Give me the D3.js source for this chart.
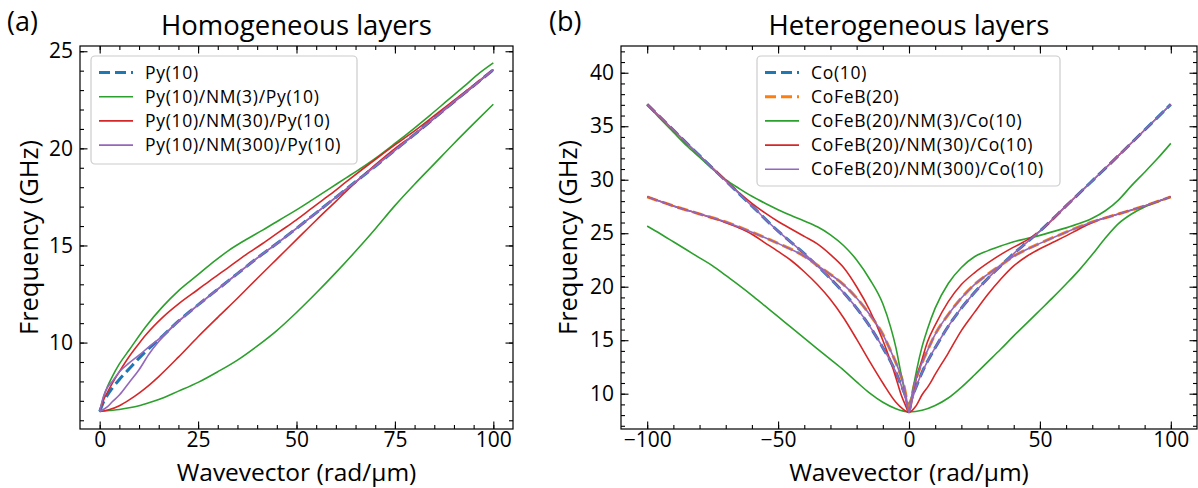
<!DOCTYPE html>
<html><head><meta charset="utf-8">
<script src="https://cdn.jsdelivr.net/npm/d3@7"></script>
<style>
html,body{margin:0;padding:0;background:#fff;}
text{font-family:"Open Sans","Noto Sans",sans-serif;fill:#000;}
</style></head>
<body>
<svg id="chart" width="1198" height="488"></svg>
<script>
// ---------------- DATA ----------------
// Panel (a): Homogeneous layers — [wavevector rad/µm, frequency GHz]
const py10 = [[0,6.45],[1,6.95],[2,7.3],[3,7.6],[5,8.1],[7.5,8.65],[10,9.2],[12.5,9.7],[15,10.15],[20,11.1],[25,11.94],[30,12.75],[35,13.55],[40,14.35],[45,15.1],[50,15.88],[55,16.68],[60,17.48],[65,18.28],[70,19.08],[75,19.9],[80,20.72],[85,21.56],[90,22.4],[95,23.22],[100,24.05]];
const nm3Upper = [[0,6.45],[1,7.2],[2,7.75],[3.2,8.25],[5,8.9],[7.5,9.62],[11.7,10.82],[16,11.85],[20.2,12.7],[24.9,13.48],[28.9,14.15],[32.9,14.76],[37,15.28],[41.4,15.79],[45.6,16.3],[49.9,16.82],[54,17.35],[58.4,17.93],[62.6,18.48],[66.9,19.05],[71,19.63],[75,20.25],[79.5,20.97],[83.9,21.7],[88.2,22.44],[92.4,23.16],[96,23.8],[100,24.4]];
const nm3Lower = [[0,6.45],[2.5,6.5],[5,6.55],[7.5,6.64],[10,6.75],[12.5,6.9],[15,7.07],[20,7.5],[25,7.95],[30,8.5],[35,9.1],[40,9.82],[45,10.62],[50,11.55],[55,12.55],[60,13.6],[65,14.7],[70,15.85],[75,17.05],[80,18.15],[85,19.2],[90,20.25],[95,21.27],[100,22.27]];
const nm30Upper = [[0,6.45],[1,7.05],[2,7.45],[3.2,7.9],[5,8.5],[7.5,9.28],[9.6,9.85],[11.7,10.39],[16,11.3],[20.2,12.02],[24.9,12.72],[28.9,13.32],[32.9,13.9],[37,14.5],[41.4,15.1],[45.6,15.7],[49.9,16.3],[54,16.93],[58.4,17.6],[62.6,18.27],[66.9,18.95],[71,19.58],[75,20.18],[80,20.9],[85,21.68],[90,22.47],[95,23.26],[100,24.05]];
const nm30Lower = [[0,6.45],[2.5,6.55],[5,6.75],[7.5,7.05],[10,7.4],[12.5,7.8],[15,8.25],[20,9.25],[25,10.3],[30,11.3],[35,12.28],[40,13.3],[45,14.3],[50,15.3],[55,16.3],[60,17.27],[65,18.25],[70,19.15],[75,19.99],[80,20.72],[85,21.54],[90,22.38],[95,23.21],[100,24.05]];
const nm300Upper = [[0,6.45],[1,7.25],[2,7.7],[3.2,8.0],[5,8.5],[7.5,8.95],[10,9.35],[12.5,9.78],[15,10.18],[20,11.1],[25,11.94],[30,12.75],[35,13.55],[40,14.35],[45,15.1],[50,15.88],[55,16.68],[60,17.48],[65,18.28],[70,19.08],[75,19.9],[80,20.72],[85,21.56],[90,22.4],[95,23.22],[100,24.05]];
const nm300Lower = [[0,6.45],[2,6.7],[3.2,6.95],[5,7.3],[7.5,7.95],[10,8.6],[12.5,9.4],[15,10.05],[17.5,10.6],[20,11.08],[25,11.94],[30,12.75],[35,13.55],[40,14.35],[45,15.1],[50,15.88],[55,16.68],[60,17.48],[65,18.28],[70,19.08],[75,19.9],[80,20.72],[85,21.56],[90,22.4],[95,23.22],[100,24.05]];

// Panel (b): Heterogeneous layers
const co10 = [[-100,37.04],[-90,34.65],[-80,32.25],[-70,29.9],[-60,27.55],[-50,25.2],[-45,24.15],[-40,23.1],[-35,21.95],[-30,20.75],[-25,19.45],[-20,18.0],[-15,16.3],[-10,14.3],[-7,13.0],[-5,12.0],[-3,10.8],[-1.5,9.9],[0,9.0],[1.5,9.9],[3,10.8],[5,12.0],[7,13.0],[10,14.3],[15,16.3],[20,18.0],[25,19.45],[30,20.75],[35,21.95],[40,23.1],[45,24.15],[50,25.2],[60,27.55],[70,29.9],[80,32.25],[90,34.65],[100,37.04]];
const cofeb20 = [[-100,28.4],[-90,27.55],[-80,26.8],[-70,26.05],[-60,25.1],[-50,24.05],[-40,22.85],[-35,22.0],[-30,21.15],[-25,20.2],[-20,18.95],[-15,17.4],[-10,15.55],[-7,14.0],[-5,12.9],[-3,11.6],[-2,10.8],[-1,9.6],[0,8.2],[1,9.6],[2,10.8],[3,11.6],[5,12.9],[7,14.0],[10,15.55],[15,17.4],[20,18.95],[25,20.2],[30,21.15],[35,22.0],[40,22.85],[50,24.05],[60,25.1],[70,26.05],[80,26.8],[90,27.55],[100,28.4]];
const hetNm3Upper = [[-100,37.04],[-95,35.7],[-90,34.45],[-85,33.2],[-80,32.1],[-75,31.0],[-70,30.0],[-65,29.2],[-60,28.45],[-55,27.8],[-50,27.2],[-45,26.65],[-40,26.15],[-35,25.6],[-30,24.85],[-25,23.85],[-20,22.5],[-15,20.7],[-10,18.4],[-7,16.2],[-5,14.3],[-3,11.8],[-1.5,10.0],[0,8.35],[1.5,10.4],[3,12.3],[5,14.4],[7,16.0],[10,18.0],[15,20.3],[20,21.8],[25,22.8],[30,23.35],[35,23.8],[40,24.2],[45,24.5],[50,24.8],[55,25.15],[60,25.5],[65,25.9],[70,26.4],[75,27.1],[80,28.1],[85,29.45],[90,30.7],[95,32.0],[100,33.4]];
const hetNm3Lower = [[-100,25.67],[-95,24.95],[-90,24.2],[-85,23.45],[-80,22.7],[-75,21.95],[-70,21.05],[-65,20.15],[-60,19.2],[-55,18.2],[-50,17.2],[-45,16.2],[-40,15.2],[-35,14.2],[-30,13.2],[-25,12.2],[-20,11.1],[-15,10.05],[-10,9.2],[-5,8.6],[0,8.3],[5,8.45],[10,8.9],[15,9.6],[20,10.6],[25,11.75],[30,12.95],[35,14.15],[40,15.4],[45,16.6],[50,17.8],[55,19.0],[60,20.25],[65,21.55],[70,23.0],[75,24.55],[80,25.9],[85,26.8],[90,27.45],[95,27.95],[100,28.4]];
const hetNm30Upper = [[-100,37.04],[-90,34.65],[-80,32.25],[-70,29.95],[-65,28.8],[-60,27.8],[-55,26.9],[-50,26.1],[-45,25.4],[-40,24.7],[-35,24.0],[-30,23.0],[-25,21.8],[-20,20.0],[-15,17.8],[-10,15.0],[-7,13.0],[-5,11.5],[-3,9.9],[-1.5,9.0],[0,8.26],[1.5,10.0],[3,11.6],[5,13.2],[7,14.8],[10,16.4],[15,18.6],[20,20.2],[25,21.3],[30,22.2],[35,23.0],[40,23.7],[45,24.35],[50,25.2],[60,27.55],[70,29.9],[80,32.25],[90,34.65],[100,37.04]];
const hetNm30Lower = [[-100,28.4],[-90,27.55],[-80,26.8],[-70,26.0],[-65,25.5],[-60,24.9],[-55,24.1],[-50,23.3],[-45,22.45],[-40,21.4],[-35,20.2],[-30,18.8],[-25,17.1],[-20,15.1],[-15,13.0],[-10,11.0],[-5,9.2],[-2.5,8.6],[0,8.26],[2.5,8.8],[5,9.9],[7.5,10.75],[10,11.8],[15,13.8],[20,15.9],[25,17.6],[30,19.25],[35,20.7],[40,21.95],[45,22.85],[50,23.55],[55,24.15],[60,24.75],[65,25.4],[70,26.0],[80,26.8],[90,27.55],[100,28.4]];
const hetNm300Co = [[-100,37.04],[-90,34.65],[-80,32.25],[-70,29.9],[-60,27.55],[-50,25.2],[-45,24.15],[-40,23.1],[-35,21.95],[-30,20.75],[-25,19.45],[-20,18.0],[-15,16.3],[-10,14.3],[-7,13.0],[-5,12.0],[-3,10.8],[-1.5,9.7],[0,8.3],[1.5,9.7],[3,10.8],[5,12.0],[7,13.0],[10,14.3],[15,16.3],[20,18.0],[25,19.45],[30,20.75],[35,21.95],[40,23.1],[45,24.15],[50,25.2],[60,27.55],[70,29.9],[80,32.25],[90,34.65],[100,37.04]];
const hetNm300CoFeB = [[-100,28.4],[-90,27.55],[-80,26.8],[-70,26.05],[-60,25.1],[-50,24.05],[-40,22.85],[-35,22.0],[-30,21.15],[-25,20.2],[-20,18.95],[-15,17.4],[-10,15.55],[-7,14.0],[-5,12.9],[-3,11.6],[-2,10.8],[-1,9.6],[0,8.2],[1,9.6],[2,10.8],[3,11.6],[5,12.9],[7,14.0],[10,15.55],[15,17.4],[20,18.95],[25,20.2],[30,21.15],[35,22.0],[40,22.85],[50,24.05],[60,25.1],[70,26.05],[80,26.8],[90,27.55],[100,28.4]];

const legendA = ["Py(10)","Py(10)/NM(3)/Py(10)","Py(10)/NM(30)/Py(10)","Py(10)/NM(300)/Py(10)"];
const legendB = ["Co(10)","CoFeB(20)","CoFeB(20)/NM(3)/Co(10)","CoFeB(20)/NM(30)/Co(10)","CoFeB(20)/NM(300)/Co(10)"];
const ticksAx = [0,25,50,75,100];
const ticksAy = [10,15,20,25];
const ticksBx = [-100,-50,0,50,100];
const ticksBy = [10,15,20,25,30,35,40];
const titles = ["Homogeneous layers","Heterogeneous layers"];
const panelLabels = ["(a)","(b)"];
const xLabel = "Wavevector (rad/\u03bcm)";
const yLabel = "Frequency (GHz)";

// ---------------- STYLE ----------------
const C = {blue:"#1f77b4",orange:"#ff7f0e",green:"#2ca02c",red:"#d62728",purple:"#9467bd"};
const svg = d3.select("#chart");

function panel(opt){
  const {x, y, xt, yt, xMinor, yMinor} = opt;
  const g = svg.append("g");
  const [L,R] = x.range(), [B,T] = y.range();
  const fmt = d => d<0 ? "\u2212"+Math.abs(d) : ""+d;
  function ax(gen, tr, vals, size, labels, pad){
    const a = g.append("g").attr("transform",tr)
      .call(gen.tickValues(vals).tickSizeInner(-size).tickSizeOuter(0).tickPadding(pad||8).tickFormat(labels?fmt:""));
    a.select(".domain").remove();
    a.selectAll("line").attr("stroke","#000").attr("stroke-width",1.1);
    a.selectAll("text").style("font-size","21px");
    return a;
  }
  ax(d3.axisBottom(x), `translate(0,${B})`, xMinor, 4, false);
  ax(d3.axisTop(x), `translate(0,${T})`, xMinor, 4, false);
  ax(d3.axisLeft(y), `translate(${L},0)`, yMinor, 4, false);
  ax(d3.axisRight(y), `translate(${R},0)`, yMinor, 4, false);
  ax(d3.axisBottom(x), `translate(0,${B})`, xt, 7.5, true, 3);
  ax(d3.axisTop(x), `translate(0,${T})`, xt, 7.5, false);
  ax(d3.axisLeft(y), `translate(${L},0)`, yt, 7.5, true, 7);
  ax(d3.axisRight(y), `translate(${R},0)`, yt, 7.5, false);
  const clipId = "clip"+Math.round(L);
  svg.append("clipPath").attr("id",clipId).append("rect").attr("x",L).attr("y",T).attr("width",R-L).attr("height",B-T);
  const lines = g.append("g").attr("clip-path",`url(#${clipId})`);
  const line = d3.line().x(d=>x(d[0])).y(d=>y(d[1])).curve(d3.curveMonotoneX);
  opt.series.forEach(s=>{
    lines.append("path").attr("d",line(s.data)).attr("fill","none")
      .attr("stroke",s.color).attr("stroke-width",s.dash?3:1.6)
      .attr("stroke-dasharray",s.dash?"11,5":null);
  });
  g.append("rect").attr("x",L).attr("y",T).attr("width",R-L).attr("height",B-T)
    .attr("fill","none").attr("stroke","#000").attr("stroke-width",1.2);
  // titles
  g.append("text").attr("x",(L+R)/2).attr("y",35).attr("text-anchor","middle").style("font-size","27.5px").text(opt.title);
  g.append("text").attr("x",opt.plx).attr("y",31).style("font-size","27px").text(opt.pl);
  g.append("text").attr("x",(L+R)/2).attr("y",480.8).attr("text-anchor","middle").style("font-size","24.5px").text(xLabel);
  g.append("text").attr("transform",`translate(${opt.ylx},${(T+B)/2}) rotate(-90)`).attr("text-anchor","middle").style("font-size","25.5px").text(yLabel);
  // legend
  const lg = opt.legend;
  const lgG = g.append("g");
  lgG.append("rect").attr("x",lg.x).attr("y",lg.y).attr("width",lg.w).attr("height",lg.h).attr("rx",4)
    .attr("fill","#fff").attr("fill-opacity",0.8).attr("stroke","#cccccc").attr("stroke-width",1.2);
  lg.items.forEach((it,i)=>{
    const yy = lg.y0 + i*lg.dy;
    lgG.append("line").attr("x1",lg.x+8).attr("x2",lg.x+42).attr("y1",yy).attr("y2",yy)
      .attr("stroke",it.color).attr("stroke-width",it.dash?3:1.6).attr("stroke-dasharray",it.dash?"11,5":null);
    lgG.append("text").attr("x",lg.x+54).attr("y",yy).attr("dy","0.35em")
      .style("font-size","17.5px").style("letter-spacing","0.7px").text(it.label);
  });
}

const xA = d3.scaleLinear().domain([-5,105]).range([80,513]);
const yA = d3.scaleLinear().domain([5.55,25.27]).range([429,46]);
const xB = d3.scaleLinear().domain([-110,110]).range([621,1197]);
const yB = d3.scaleLinear().domain([6.7,42.5]).range([429,46]);

panel({x:xA,y:yA,xt:ticksAx,yt:ticksAy,xMinor:d3.range(0,101,5),yMinor:d3.range(6,26,1),
  title:titles[0],pl:panelLabels[0],plx:7,ylx:38,
  series:[
    {data:py10,color:C.blue,dash:true},
    {data:nm3Upper,color:C.green},{data:nm3Lower,color:C.green},
    {data:nm30Upper,color:C.red},{data:nm30Lower,color:C.red},
    {data:nm300Upper,color:C.purple},{data:nm300Lower,color:C.purple}
  ],
  legend:{x:91,y:56,w:266,h:108,y0:72.5,dy:24.2,items:[
    {label:legendA[0],color:C.blue,dash:true},{label:legendA[1],color:C.green},
    {label:legendA[2],color:C.red},{label:legendA[3],color:C.purple}]}
});
panel({x:xB,y:yB,xt:ticksBx,yt:ticksBy,xMinor:d3.range(-100,101,10),yMinor:d3.range(7,43,1),
  title:titles[1],pl:panelLabels[1],plx:549,ylx:577,
  series:[
    {data:co10,color:C.blue,dash:true},{data:cofeb20,color:C.orange,dash:true},
    {data:hetNm3Upper,color:C.green},{data:hetNm3Lower,color:C.green},
    {data:hetNm30Upper,color:C.red},{data:hetNm30Lower,color:C.red},
    {data:hetNm300Co,color:C.purple},{data:hetNm300CoFeB,color:C.purple}
  ],
  legend:{x:757,y:56,w:303,h:130,y0:72.5,dy:24.2,items:[
    {label:legendB[0],color:C.blue,dash:true},{label:legendB[1],color:C.orange,dash:true},
    {label:legendB[2],color:C.green},{label:legendB[3],color:C.red},{label:legendB[4],color:C.purple}]}
});
</script>
</body></html>
